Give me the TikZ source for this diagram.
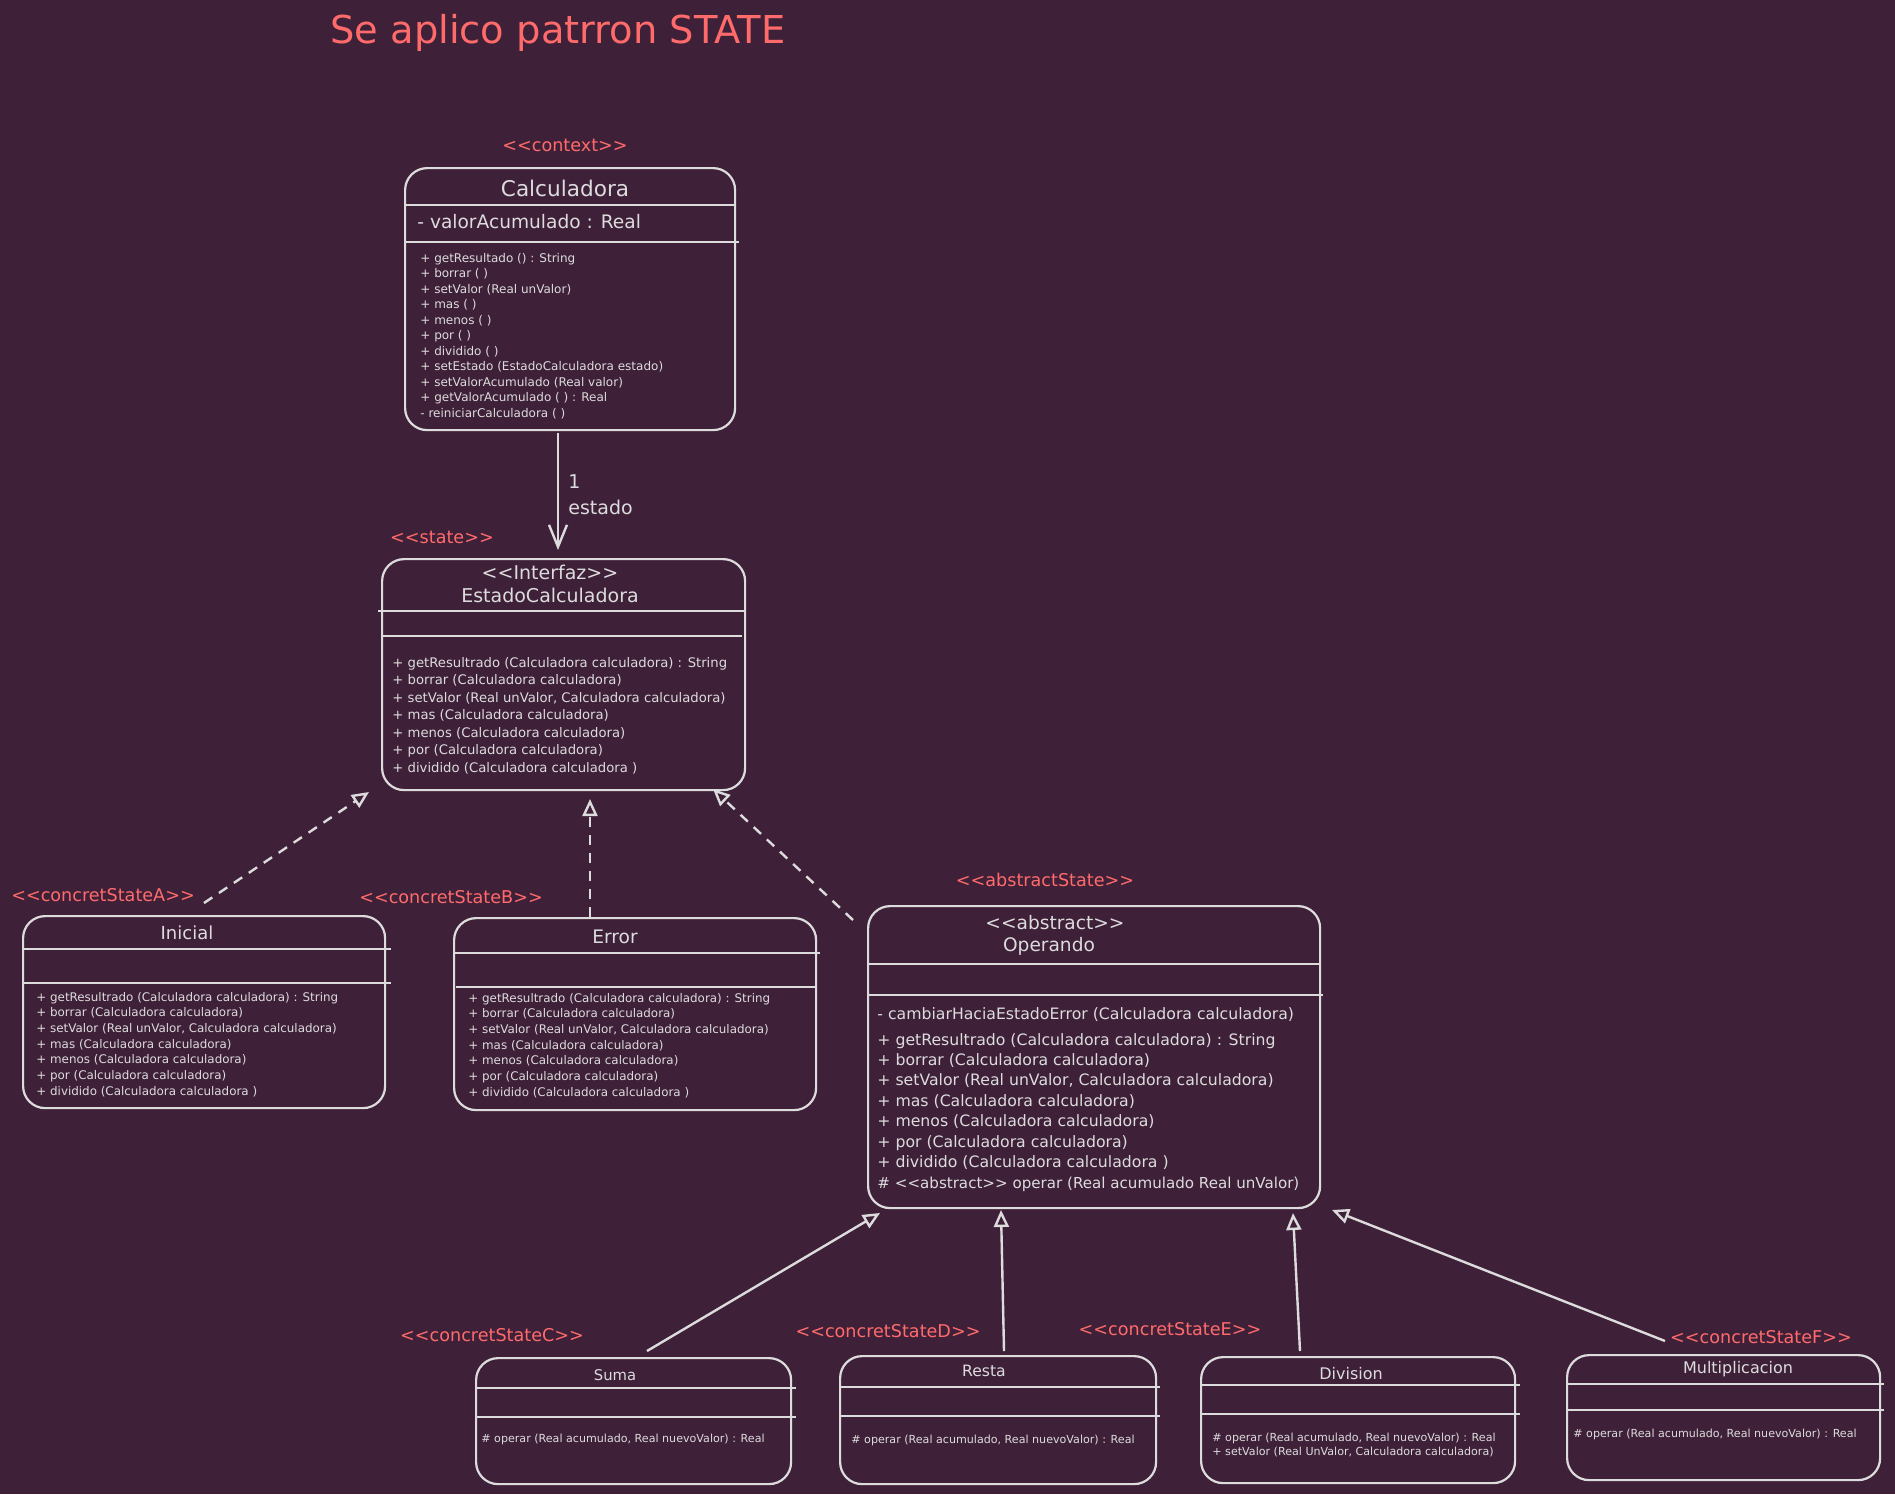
\documentclass[tikz,border=0pt]{standalone}
\usepackage{fontspec}
\setmainfont{DejaVu Sans}[Ligatures=TeXOff]
\usetikzlibrary{arrows.meta}
\definecolor{bg}{HTML}{3F2039}
\definecolor{ink}{HTML}{DCDCDC}
\definecolor{redt}{HTML}{FF6B6B}
\newcommand{\mlist}[6]{\foreach \mtext [count=\i from 0] in {#6}{\node[meth, font=\fontsize{#5}{#5}\selectfont] (#1\i) at (#2,{#3+\i*#4}) {\mtext};}}
\begin{document}
\begin{tikzpicture}[x=0.5pt, y=-0.5pt,
  box/.style={draw=ink, line width=1.1pt, rounded corners=11pt, anchor=north west, inner sep=0pt},
  sepline/.style={draw=ink, line width=1.3pt},
  lbl/.style={text=redt, inner sep=0pt, font=\fontsize{8.8}{10}\selectfont},
  cname/.style={text=ink, inner sep=0pt},
  meth/.style={text=ink, inner sep=0pt, anchor=west, text height=0.75em, text depth=0.25em},
  conn/.style={draw=ink, line width=1.2pt},
  realiz/.style={conn, dash pattern=on 5pt off 4pt, -{Triangle[open, length=8.5pt, width=7.5pt]}},
  inherit/.style={conn, -{Triangle[open, length=8.5pt, width=7.5pt]}},
  assoc/.style={conn, -{Straight Barb[length=11pt, width=9pt]}}]
\fill[bg] (0,0) rectangle (1895,1494);

% title
\node[text=redt, inner sep=0pt, font=\fontsize{19.2}{22}\selectfont] (title) at (558,33) {Se aplico patrron STATE};

% stereotypes
\node[lbl] (lctx) at (565,145) {<<context>>};
\node[lbl] (lstate) at (442,537) {<<state>>};
\node[lbl] (lA) at (103,895) {<<concretStateA>>};
\node[lbl] (lB) at (451,897) {<<concretStateB>>};
\node[lbl] (lAbs) at (1045,880) {<<abstractState>>};
\node[lbl] (lC) at (492,1335) {<<concretStateC>>};
\node[lbl] (lD) at (888,1331) {<<concretStateD>>};
\node[lbl] (lE) at (1170,1329) {<<concretStateE>>};
\node[lbl] (lF) at (1761,1337) {<<concretStateF>>};

% Calculadora
\node[box, minimum width=165pt, minimum height=131pt] (calc) at (404,167) {};
\draw[sepline] (404,205) -- (736,205);
\draw[sepline] (404,242) -- (739,242);
\node[cname, font=\fontsize{10.8}{12}\selectfont] (calcT) at (565,188) {Calculadora};
\node[meth, font=\fontsize{9.3}{11}\selectfont] (calcA) at (417,223) {- valorAcumulado : Real};
\mlist{calcM}{420}{257}{15.5}{6}{{+ getResultado () : String},{+ borrar ( )},{+ setValor (Real unValor)},{+ mas ( )},{+ menos ( )},{+ por ( )},{+ dividido ( )},{+ setEstado (EstadoCalculadora estado)},{+ setValorAcumulado (Real valor)},{+ getValorAcumulado ( ) : Real},{- reiniciarCalculadora ( )}}

% EstadoCalculadora
\node[box, minimum width=181.5pt, minimum height=115.5pt] (est) at (381,558) {};
\draw[sepline] (378,611) -- (745,611);
\draw[sepline] (381,636) -- (742,636);
\node[cname, font=\fontsize{9.5}{11}\selectfont] (estS) at (550,572) {<<Interfaz>>};
\node[cname, font=\fontsize{9.5}{11}\selectfont] (estT) at (550,595) {EstadoCalculadora};
\mlist{estM}{392}{662}{17.5}{6.6}{{+ getResultrado (Calculadora calculadora) : String},{+ borrar (Calculadora calculadora)},{+ setValor (Real unValor, Calculadora calculadora)},{+ mas (Calculadora calculadora)},{+ menos (Calculadora calculadora)},{+ por (Calculadora calculadora)},{+ dividido (Calculadora calculadora )}}

% Inicial
\node[box, minimum width=181pt, minimum height=96pt] (ini) at (22,915) {};
\draw[sepline] (22,949) -- (391,949);
\draw[sepline] (22,983) -- (391,983);
\node[cname, font=\fontsize{9}{11}\selectfont] (iniT) at (187,933) {Inicial};
\mlist{iniM}{36}{996}{15.7}{5.95}{{+ getResultrado (Calculadora calculadora) : String},{+ borrar (Calculadora calculadora)},{+ setValor (Real unValor, Calculadora calculadora)},{+ mas (Calculadora calculadora)},{+ menos (Calculadora calculadora)},{+ por (Calculadora calculadora)},{+ dividido (Calculadora calculadora )}}

% Error
\node[box, minimum width=181pt, minimum height=96pt] (err) at (453,917) {};
\draw[sepline] (453,953) -- (820,953);
\draw[sepline] (456,987) -- (817,987);
\node[cname, font=\fontsize{9.3}{11}\selectfont] (errT) at (615,937) {Error};
\mlist{errM}{468}{997}{15.7}{5.95}{{+ getResultrado (Calculadora calculadora) : String},{+ borrar (Calculadora calculadora)},{+ setValor (Real unValor, Calculadora calculadora)},{+ mas (Calculadora calculadora)},{+ menos (Calculadora calculadora)},{+ por (Calculadora calculadora)},{+ dividido (Calculadora calculadora )}}

% Operando
\node[box, minimum width=226pt, minimum height=151pt] (ope) at (867,905) {};
\draw[sepline] (867,964) -- (1321,964);
\draw[sepline] (867,995) -- (1323,995);
\node[cname, font=\fontsize{9.3}{11}\selectfont] (opeS) at (1055,923) {<<abstract>>};
\node[cname, font=\fontsize{9.3}{11}\selectfont] (opeT) at (1049,946) {Operando};
\node[meth, font=\fontsize{7.85}{9}\selectfont] (opeP) at (877,1014) {- cambiarHaciaEstadoError (Calculadora calculadora)};
\mlist{opeM}{877}{1040}{20.4}{7.85}{{+ getResultrado (Calculadora calculadora) : String},{+ borrar (Calculadora calculadora)},{+ setValor (Real unValor, Calculadora calculadora)},{+ mas (Calculadora calculadora)},{+ menos (Calculadora calculadora)},{+ por (Calculadora calculadora)},{+ dividido (Calculadora calculadora )}}
\node[meth, font=\fontsize{7.55}{9}\selectfont] (opeM7) at (877,1183) {\# <<abstract>> operar (Real acumulado Real unValor)};

% Suma
\node[box, minimum width=157.5pt, minimum height=63pt] (suma) at (475,1357) {};
\draw[sepline] (475,1388) -- (796,1388);
\draw[sepline] (475,1417) -- (796,1417);
\node[cname, font=\fontsize{7.4}{9}\selectfont] (sumaT) at (615,1375) {Suma};
\node[meth, font=\fontsize{5.55}{7}\selectfont] (sumaM) at (481,1437) {\# operar (Real acumulado, Real nuevoValor) : Real};

% Resta
\node[box, minimum width=158pt, minimum height=64pt] (resta) at (839,1355) {};
\draw[sepline] (839,1387) -- (1160,1387);
\draw[sepline] (839,1416) -- (1160,1416);
\node[cname, font=\fontsize{7.8}{9}\selectfont] (restaT) at (984,1371) {Resta};
\node[meth, font=\fontsize{5.55}{7}\selectfont] (restaM) at (851,1438) {\# operar (Real acumulado, Real nuevoValor) : Real};

% Division
\node[box, minimum width=157pt, minimum height=63pt] (div) at (1200,1356) {};
\draw[sepline] (1200,1385) -- (1520,1385);
\draw[sepline] (1200,1414) -- (1520,1414);
\node[cname, font=\fontsize{8}{9}\selectfont] (divT) at (1351,1374) {Division};
\mlist{divM}{1212}{1436}{14}{5.55}{{\# operar (Real acumulado, Real nuevoValor) : Real},{+ setValor (Real UnValor, Calculadora calculadora)}}

% Multiplicacion
\node[box, minimum width=156.5pt, minimum height=62.5pt] (mul) at (1566,1354) {};
\draw[sepline] (1566,1384) -- (1884,1384);
\draw[sepline] (1566,1410) -- (1884,1410);
\node[cname, font=\fontsize{8}{9}\selectfont] (mulT) at (1738,1369) {Multiplicacion};
\node[meth, font=\fontsize{5.55}{7}\selectfont] (mulM) at (1573,1432) {\# operar (Real acumulado, Real nuevoValor) : Real};

% connectors
\coordinate (a1s) at (558,433); \coordinate (a1e) at (558,550);
\draw[assoc] (a1s) -- (a1e);
\node[text=ink, inner sep=0pt, anchor=west, font=\fontsize{9.5}{11}\selectfont] (m1) at (568,482) {1};
\node[text=ink, inner sep=0pt, anchor=west, font=\fontsize{9.5}{11}\selectfont] (m2) at (568,507) {estado};

\coordinate (rAs) at (204,903); \coordinate (rAe) at (369,792);
\coordinate (rBs) at (590,917); \coordinate (rBe) at (590,799);
\coordinate (rOs) at (853,920); \coordinate (rOe) at (713,789);
\draw[realiz] (rAs) -- (rAe);
\draw[realiz] (rBs) -- (rBe);
\draw[realiz] (rOs) -- (rOe);

\coordinate (iCs) at (647,1351); \coordinate (iCe) at (880,1213);
\coordinate (iDs) at (1004,1351); \coordinate (iDe) at (1001,1210);
\coordinate (iEs) at (1300,1351); \coordinate (iEe) at (1293,1213);
\coordinate (iFs) at (1665,1341); \coordinate (iFe) at (1332,1210);
\draw[inherit] (iCs) -- (iCe);
\draw[inherit] (iDs) -- (iDe);
\draw[inherit] (iEs) -- (iEe);
\draw[inherit] (iFs) -- (iFe);
\end{tikzpicture}
\end{document}
